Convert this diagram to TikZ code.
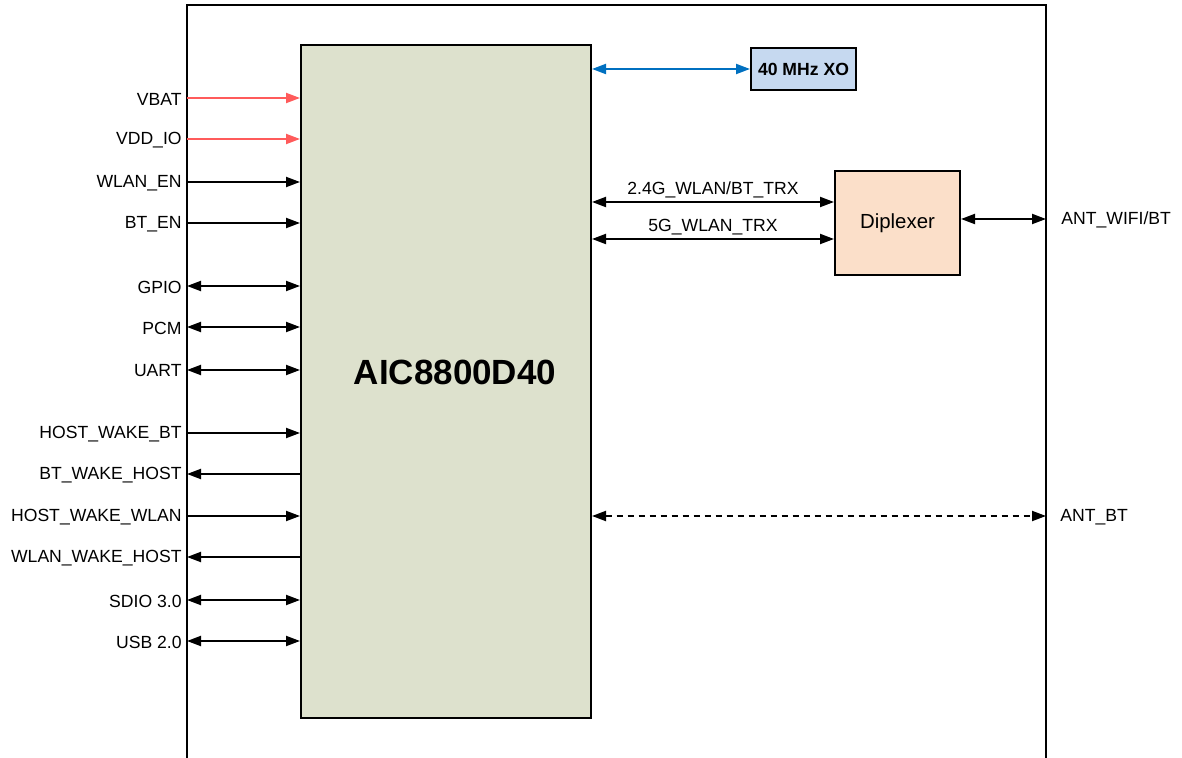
\documentclass[tikz,border=0pt]{standalone}
\usepackage{fontspec}
\setmainfont{Liberation Sans}
\usetikzlibrary{arrows.meta, positioning}
\definecolor{chipfill}{HTML}{DDE1CD}
\definecolor{xofill}{HTML}{C6D9F0}
\definecolor{dipfill}{HTML}{FBDFC9}
\definecolor{pwrred}{HTML}{FF5B5B}
\definecolor{clkblue}{HTML}{0070C0}

\begin{document}
\begin{tikzpicture}[
    x=0.5pt, y=-0.5pt,
    every node/.style={font=\fontsize{8.8}{10}\selectfont},
    block/.style={rectangle, draw, line width=1pt, inner sep=0pt, align=center},
    sigin/.style={line width=1pt, -{Triangle[length=7pt, width=5pt]}},
    sigout/.style={line width=1pt, {Triangle[length=7pt, width=5pt]}-},
    sigbi/.style={line width=1pt, {Triangle[length=7pt, width=5pt]}-{Triangle[length=7pt, width=5pt]}},
    pwrin/.style={sigin, pwrred}
]
    \useasboundingbox (0,0) rectangle (1182,758);

    % module outline, open at the bottom
    \draw[line width=1pt] (187,760) -- (187,5) -- (1046,5) -- (1046,760);
    \coordinate (fl) at (187,5);
    \coordinate (fr) at (1046,5);

    \node[block, fill=chipfill, minimum width=145pt, minimum height=336.5pt] (chip) at (446,381.5) {};
    \node[font=\fontsize{17.5}{20}\selectfont\bfseries] (chipname) at (455,372) {AIC8800D40};

    \node[block, fill=xofill, minimum width=52.5pt, minimum height=21pt,
          font=\fontsize{8.8}{10}\selectfont\bfseries] (xo) at (803.5,69) {40 MHz XO};
    \node[block, fill=dipfill, minimum width=62.5pt, minimum height=52pt,
          font=\fontsize{10.2}{12}\selectfont] (dip) at (897.5,223) {Diplexer};

    % host side signals
    \foreach \y/\lbl/\kind in {98/VBAT/pwrin, 139/VDD\_IO/pwrin, 182/WLAN\_EN/sigin,
        223/BT\_EN/sigin, 286/GPIO/sigbi, 327/PCM/sigbi, 370/UART/sigbi,
        433/HOST\_WAKE\_BT/sigin, 474/BT\_WAKE\_HOST/sigout, 516/HOST\_WAKE\_WLAN/sigin,
        557/WLAN\_WAKE\_HOST/sigout, 600/SDIO 3.0/sigbi, 641/USB 2.0/sigbi} {
        \node[anchor=east, inner sep=0pt] (pin\y) at (182,\y+1) {\lbl};
        \draw[\kind] (fl |- 0,\y) -- (chip.west |- 0,\y);
    }

    % RF side
    \draw[line width=1pt, clkblue, {Triangle[length=7pt, width=5pt]}-{Triangle[length=7pt, width=5pt]}]
        (chip.east |- xo.west) -- (xo.west);
    \coordinate (trx24) at ([yshift=10.5pt]dip.west);
    \coordinate (trx5) at ([yshift=-8pt]dip.west);
    \draw[sigbi] (chip.east |- trx24) -- (trx24)
        node[midway, above, inner sep=1.5pt] {2.4G\_WLAN/BT\_TRX};
    \draw[sigbi] (chip.east |- trx5) -- (trx5)
        node[midway, above, inner sep=1.5pt] {5G\_WLAN\_TRX};

    \node[anchor=west, inner sep=0pt] (antwifi) at (1061,220) {ANT\_WIFI/BT};
    \draw[sigbi] (dip.east |- 0,219) -- (fr |- 0,219);

    \node[anchor=west, inner sep=0pt] (antbt) at (1060,517) {ANT\_BT};
    \draw[sigbi, dash pattern=on 3pt off 2.5pt] (chip.east |- 0,516) -- (fr |- 0,516);
\end{tikzpicture}
\end{document}
